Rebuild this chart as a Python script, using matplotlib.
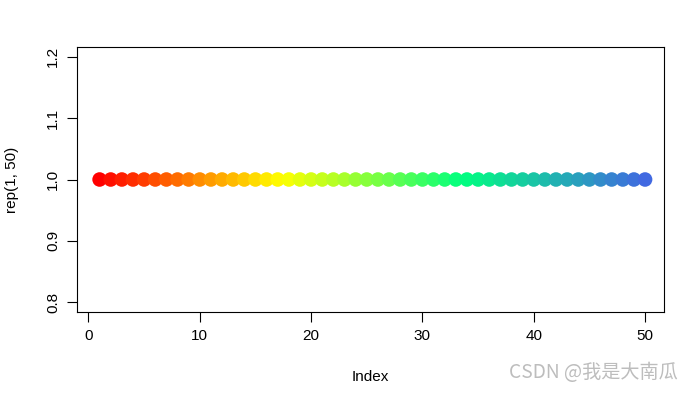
import numpy as np
import matplotlib
matplotlib.use("Agg")
import matplotlib.pyplot as plt
from matplotlib.colors import LinearSegmentedColormap

# data: rep(1, 50) plotted against its index
index = list(range(1, 51))
values = [1.0, 1.0, 1.0, 1.0, 1.0, 1.0, 1.0, 1.0, 1.0, 1.0,
          1.0, 1.0, 1.0, 1.0, 1.0, 1.0, 1.0, 1.0, 1.0, 1.0,
          1.0, 1.0, 1.0, 1.0, 1.0, 1.0, 1.0, 1.0, 1.0, 1.0,
          1.0, 1.0, 1.0, 1.0, 1.0, 1.0, 1.0, 1.0, 1.0, 1.0,
          1.0, 1.0, 1.0, 1.0, 1.0, 1.0, 1.0, 1.0, 1.0, 1.0]
ramp = ["red", "yellow", "springgreen", "royalblue"]
xticks = [0, 10, 20, 30, 40, 50]
yticks = [0.8, 0.9, 1.0, 1.1, 1.2]

plt.rcParams["font.family"] = ["Liberation Sans", "DejaVu Sans"]

cmap = LinearSegmentedColormap.from_list("ramp", ramp)
cols = cmap(np.linspace(0, 1, len(values)))

fig = plt.figure(figsize=(6.94, 3.93), dpi=100)
ax = fig.add_axes([77 / 694, 81 / 393, 587 / 694, 265 / 393])
ax.scatter(index, values, c=cols, s=110, linewidths=0, zorder=3)

ax.set_xlim(-1.03, 51.7)
ax.set_ylim(0.784, 1.216)
ax.set_xticks(xticks)
ax.set_xticklabels([str(t) for t in xticks])
ax.set_yticks(yticks)
ax.set_yticklabels([f"{t:.1f}" for t in yticks], rotation=90, va="center")
ax.tick_params(direction="out", length=7, width=0.8, pad=5, labelsize=11)
for s in ax.spines.values():
    s.set_linewidth(0.8)

ax.set_xlabel("Index", fontsize=11, labelpad=20)
ax.set_ylabel("rep(1, 50)", fontsize=11, labelpad=20)

fig.text(678 / 694, 1 - 373 / 393, "CSDN @我是大南瓜", ha="right", va="center",
         color="#bdbdbd", fontsize=13.8, family=["Noto Sans CJK SC", "DejaVu Sans"])

fig.savefig("out.png", dpi=100)
